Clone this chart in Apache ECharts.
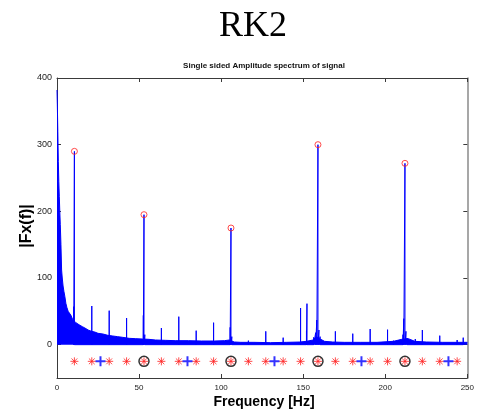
<!DOCTYPE html>
<html>
<head>
<meta charset="utf-8">
<script src="https://cdn.jsdelivr.net/npm/echarts@6/dist/echarts.min.js"></script>
<style>
html,body{margin:0;padding:0;background:#fff;}
#chart{width:477px;height:414px;}
</style>
</head>
<body>
<div id="chart"></div>
<script>
// ---- data ----
const chartTitle = 'RK2';
const subTitle = 'Single sided Amplitude spectrum of signal';
const xName = 'Frequency [Hz]';
const yName = '|Fx(f)|';
const xTickValues = [0, 50, 100, 150, 200, 250];
const yTickValues = [0, 100, 200, 300, 400];

// dense noise floor (upper envelope of the spectrum)
const noiseFreq = [0, 0.2, 0.5, 0.8, 1.1, 1.4, 1.7, 2.0, 2.4, 2.8, 3.2, 3.7, 4.2, 4.8, 5.4, 6.0, 6.8, 7.6, 8.5, 9.5, 10.5, 11.5, 12.5, 14, 15.5, 17, 19, 21, 23, 25, 28, 31, 34, 37, 40, 44, 48, 52, 56, 60, 66, 72, 80, 88, 96, 102, 105, 108, 112, 120, 130, 140, 148, 152, 156, 158, 160, 163, 168, 175, 185, 195, 205, 210, 214, 218, 225, 235, 245, 250];
const noiseAmp  = [382, 360, 320, 275, 245, 222, 200, 180, 150, 112, 100, 88, 80, 72, 62, 56, 50, 47, 44, 38, 35, 33, 31, 29, 27, 25, 22, 20, 19, 17, 16, 14, 13, 12, 11, 9.5, 9, 8.5, 8, 7, 6.5, 6, 6, 5.5, 5.5, 6, 7, 4, 3.5, 3.5, 3, 3.5, 4, 5, 7, 12, 9, 5, 4, 3.5, 3.5, 3.5, 5, 8, 9, 5, 4, 3.5, 3.5, 3.5];

// discrete spectral lines
const lineFreq = [10.2, 10.6, 21.2, 31.8, 42.4, 52.6, 53.0, 53.5, 63.6, 74.2, 84.8, 95.4, 105.5, 106.0, 106.5, 116.6, 127.2, 137.8, 148.4, 152.0, 152.3, 156.4, 157.6, 158.3, 159.0, 159.6, 160.3, 169.6, 180.2, 190.8, 201.4, 205.0, 210.8, 211.3, 212.0, 212.6, 213.3, 218.3, 222.6, 233.2, 243.8, 247.5];
const lineAmp  = [57, 290, 58, 51, 40, 44, 195, 15, 25, 42, 21, 33, 26, 175, 12, 6, 20, 10.5, 55, 21, 61.5, 11, 18, 37, 300, 22, 12, 20, 16.5, 23.5, 22.5, 6, 15, 39, 272, 20, 10, 8.5, 22, 13.5, 7, 10.5];

// detected peaks (red circles)
const peakFreq = [10.6, 53.0, 106.0, 159.0, 212.0];
const peakAmp  = [290, 195, 175, 300, 272];

// marker row
const markerLevel = -25;
const starFreq = [10.6, 21.2, 31.8, 42.4, 53.0, 63.6, 74.2, 84.8, 95.4, 106.0, 116.6, 127.2, 137.8, 148.4, 159.0, 169.6, 180.2, 190.8, 201.4, 212.0, 222.6, 233.2, 243.8];
const plusFreq = [26.5, 79.5, 132.5, 185.5, 238.5];
const ringFreq = [53.0, 106.0, 159.0, 212.0];

// ---- build chart ----
const noiseData = noiseFreq.map((f, i) => [f, noiseAmp[i]]);
const spikeData = [];
lineFreq.forEach((f, i) => { spikeData.push([f, 0], [f, lineAmp[i]], [f, 0]); });
const peakData = peakFreq.map((f, i) => [f, peakAmp[i]]);
const starData = starFreq.map(f => [f, markerLevel]);
const plusData = plusFreq.map(f => [f, markerLevel]);
const ringData = ringFreq.map(f => [f, markerLevel]);

const BLUE = '#0000ff';
const AXC = '#3a3a3a';
const starPath = 'path://M0,-1L0,1M-1,0L1,0M-0.72,-0.72L0.72,0.72M-0.72,0.72L0.72,-0.72';
const plusPath = 'path://M0,-1L0,1M-1,0L1,0';

const chart = echarts.init(document.getElementById('chart'), null, {renderer: 'canvas'});
const xCommon = {
  type: 'value', min: 0, max: 250, interval: 50,
  axisLine: {show: true, onZero: false, lineStyle: {color: AXC, width: 1}},
  axisTick: {show: true, inside: true, length: 4, lineStyle: {color: AXC}},
  splitLine: {show: false}
};
const yCommon = {
  type: 'value', min: -50, max: 400, interval: 50,
  axisLine: {show: true, onZero: false, lineStyle: {color: AXC, width: 1}},
  axisTick: {show: true, inside: true, length: 4, customValues: yTickValues, lineStyle: {color: AXC}},
  splitLine: {show: false}
};
chart.setOption({
  animation: false,
  backgroundColor: '#fff',
  grid: {left: 57, right: 5, top: 78, bottom: 36, containLabel: false},
  xAxis: [
    Object.assign({}, xCommon, {position: 'bottom',
      axisLabel: {show: true, customValues: xTickValues, fontFamily: 'Liberation Sans, Arial', fontSize: 8, color: '#222', margin: 6}}),
    Object.assign({}, xCommon, {position: 'top', axisLabel: {show: false}})
  ],
  yAxis: [
    Object.assign({}, yCommon, {position: 'left',
      axisLabel: {show: true, customValues: yTickValues, fontFamily: 'Liberation Sans, Arial', fontSize: 9, color: '#222', margin: 5}}),
    Object.assign({}, yCommon, {position: 'right', axisLabel: {show: false},
      axisLine: {show: true, onZero: false, lineStyle: {color: '#8a8a8a', width: 1.5}}})
  ],
  graphic: [
    {type: 'text', x: 253, y: 27, style: {text: chartTitle, font: '36px "Liberation Serif", "Times New Roman", serif', fill: '#000', align: 'center', verticalAlign: 'middle'}},
    {type: 'text', x: 264, y: 66, style: {text: subTitle, font: 'bold 8px "Liberation Sans", Arial, sans-serif', fill: '#111', align: 'center', verticalAlign: 'middle'}},
    {type: 'text', x: 264, y: 402, style: {text: xName, font: 'bold 14px "Liberation Sans", Arial, sans-serif', fill: '#000', align: 'center', verticalAlign: 'middle'}},
    {type: 'text', x: 27, y: 226, rotation: Math.PI / 2, style: {text: yName, font: 'bold 16px "Liberation Sans", Arial, sans-serif', fill: '#000', align: 'center', verticalAlign: 'middle'}}
  ],
  series: [
    {type: 'line', name: 'noise', data: noiseData, xAxisIndex: 0, yAxisIndex: 0, showSymbol: false, symbol: 'none',
      lineStyle: {color: BLUE, width: 1}, areaStyle: {color: BLUE, opacity: 1, origin: 0}, silent: true, z: 2},
    {type: 'line', name: 'lines', data: spikeData, xAxisIndex: 0, yAxisIndex: 0, showSymbol: false, symbol: 'none',
      lineStyle: {color: BLUE, width: 1}, silent: true, z: 3},
    {type: 'scatter', name: 'peaks', data: peakData, symbol: 'circle', symbolSize: 6,
      itemStyle: {color: 'rgba(0,0,0,0)', borderColor: '#ff2020', borderWidth: 1}, silent: true, z: 5},
    {type: 'scatter', name: 'rings', data: ringData, symbol: 'circle', symbolSize: 10,
      itemStyle: {color: 'rgba(0,0,0,0)', borderColor: '#000', borderWidth: 1.5}, silent: true, z: 5},
    {type: 'scatter', name: 'stars', data: starData, symbol: starPath, symbolSize: 8,
      itemStyle: {color: 'rgba(0,0,0,0)', borderColor: '#ff2020', borderWidth: 1}, silent: true, z: 6},
    {type: 'scatter', name: 'plus', data: plusData, symbol: plusPath, symbolSize: 10,
      itemStyle: {color: 'rgba(0,0,0,0)', borderColor: BLUE, borderWidth: 2}, silent: true, z: 6}
  ]
});
</script>
</body>
</html>
